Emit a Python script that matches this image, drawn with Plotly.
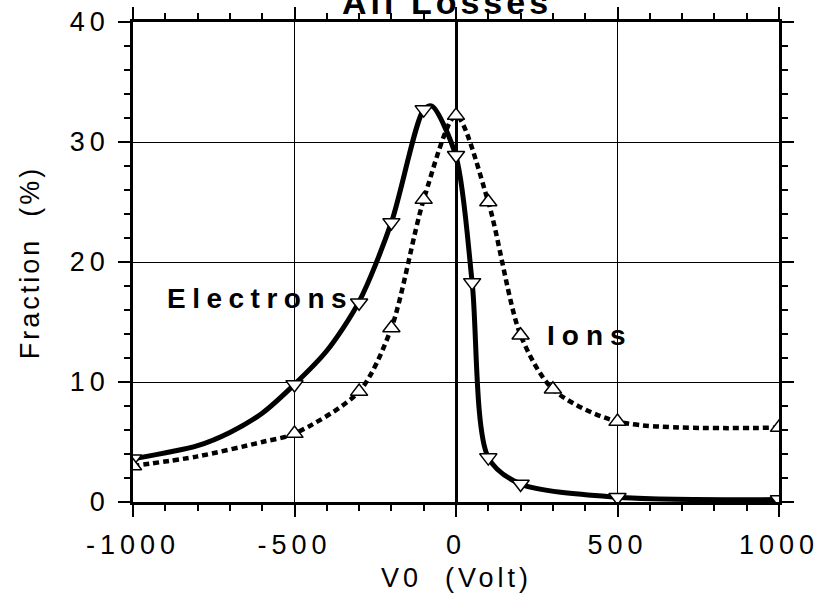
import plotly.graph_objects as go

# values
# line curves (smooth traces)
elec_curve_v = [-1000, -800, -700, -600, -500, -400, -300, -200, -100, -75, 0, 50, 100, 200, 500, 1000]
elec_curve_f = [3.6, 4.7, 5.8, 7.4, 9.8, 12.6, 16.7, 23.3, 32.7, 33.0, 28.8, 18.3, 3.7, 1.5, 0.4, 0.2]
ion_curve_v = [-1000, -800, -600, -500, -300, -200, -100, 0, 100, 200, 300, 500, 1000]
ion_curve_f = [3.0, 3.8, 5.0, 5.7, 9.2, 14.5, 25.2, 32.2, 25.0, 13.9, 9.4, 6.7, 6.2]

# measured points (markers)
elec_v = [-1000, -500, -300, -200, -100, 0, 50, 100, 200, 500, 1000]
elec_f = [3.6, 9.8, 16.6, 23.3, 32.7, 28.9, 18.3, 3.7, 1.5, 0.4, 0.2]
ion_v = [-1000, -500, -300, -200, -100, 0, 100, 200, 300, 500, 1000]
ion_f = [3.0, 5.7, 9.2, 14.5, 25.2, 32.2, 25.0, 13.9, 9.4, 6.7, 6.2]

x_ticks = [-1000, -500, 0, 500, 1000]
y_ticks = [0, 10, 20, 30, 40]

FONT = "Liberation Sans, Arial, sans-serif"


def spaced(t, px):
    return f'<span style="letter-spacing:{px}px">{t}</span>'


fig = go.Figure()

fig.add_trace(go.Scatter(
    x=elec_curve_v, y=elec_curve_f, mode="lines",
    line=dict(color="black", width=5, shape="spline", smoothing=0.8),
    hoverinfo="skip", showlegend=False
))
fig.add_trace(go.Scatter(
    x=ion_curve_v, y=ion_curve_f, mode="lines",
    line=dict(color="black", width=4.5, dash="6px,4px", shape="spline", smoothing=0.8),
    hoverinfo="skip", showlegend=False
))
fig.add_trace(go.Scatter(
    x=elec_v, y=elec_f, mode="markers", name="Electrons",
    marker=dict(symbol="triangle-down", size=15, color="white",
                line=dict(color="black", width=1.5)),
    showlegend=False
))
fig.add_trace(go.Scatter(
    x=ion_v, y=ion_f, mode="markers", name="Ions",
    marker=dict(symbol="triangle-up", size=15, color="white",
                line=dict(color="black", width=1.5)),
    showlegend=False
))

axis_common = dict(
    showline=True, linecolor="black", linewidth=2.5, mirror="ticks",
    ticks="outside", ticklen=12, tickwidth=2, tickcolor="black",
    showgrid=True, gridcolor="black", gridwidth=1,
    tickfont=dict(family=FONT, size=27, color="black"),
    automargin=False,
)

fig.update_xaxes(
    range=[-1000, 1000], tickvals=x_ticks,
    ticktext=[spaced(str(v), 5) for v in x_ticks],
    zeroline=True, zerolinecolor="black", zerolinewidth=2.5,
    minor=dict(dtick=100, ticks="outside", ticklen=6, tickwidth=1.5,
               tickcolor="black", showgrid=False),
    ticklabelstandoff=5,
    **axis_common
)
fig.update_yaxes(
    range=[0, 40], tickvals=y_ticks,
    ticktext=[spaced(str(v), 5) for v in y_ticks],
    zeroline=False,
    minor=dict(dtick=2, ticks="outside", ticklen=6, tickwidth=1.5,
               tickcolor="black", showgrid=False),
    ticklabelstandoff=3,
    **axis_common
)

fig.add_annotation(
    text="<b>" + spaced("All Losses", 4) + "</b>", xref="paper", yref="paper",
    x=0.486, y=0.998, xanchor="center", yanchor="bottom", showarrow=False,
    font=dict(family=FONT, size=34, color="black")
)
fig.add_annotation(
    text="<b>" + spaced("Electrons", 6.5) + "</b>", x=-900, y=17.0,
    xanchor="left", yanchor="middle", showarrow=False,
    font=dict(family=FONT, size=28, color="black")
)
fig.add_annotation(
    text="<b>" + spaced("Ions", 7) + "</b>", x=275, y=13.9,
    xanchor="left", yanchor="middle", showarrow=False,
    font=dict(family=FONT, size=28, color="black")
)
fig.add_annotation(
    text=spaced("V0  (Volt)", 4), xref="paper", yref="paper",
    x=0.5, y=-0.158, xanchor="center", yanchor="middle", showarrow=False,
    font=dict(family=FONT, size=27, color="black")
)
fig.add_annotation(
    text=spaced("Fraction  (%)", 3), xref="paper", yref="paper",
    x=-0.159, y=0.5, xanchor="center", yanchor="middle", showarrow=False,
    textangle=-90, font=dict(family=FONT, size=27, color="black")
)

fig.update_layout(
    width=826, height=598,
    margin=dict(l=133, r=47, t=22, b=96),
    paper_bgcolor="white", plot_bgcolor="white",
    font=dict(family=FONT, color="black"),
    showlegend=False,
)

# page body has a default 8px margin; drop it so the figure fills the window
fig.write_html("out.html", config={"displayModeBar": False},
               post_script="document.body.style.margin='0';")
